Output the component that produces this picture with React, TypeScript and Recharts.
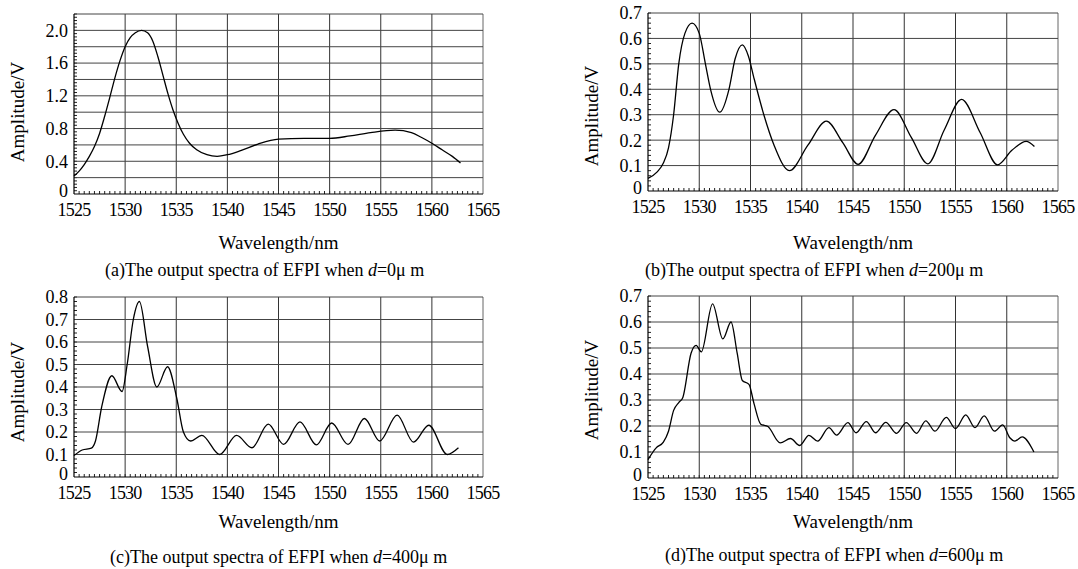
import React from "react";
import { LineChart, Line, XAxis, YAxis, ReferenceLine } from "recharts";

// wavelength axis (nm)
const wavelengthTicks = [1525, 1530, 1535, 1540, 1545, 1550, 1555, 1560, 1565];

// (a) d = 0 um
const wavelengthA = [1525, 1525.5, 1526, 1526.5, 1527, 1527.5, 1528, 1528.5, 1529, 1529.5, 1530, 1530.5, 1531, 1531.6, 1532.2, 1532.7, 1533.2, 1533.7, 1534.2, 1534.7, 1535.2, 1535.7, 1536.3, 1537, 1538, 1539, 1540, 1541.3, 1543, 1545, 1547.5, 1550, 1552, 1554, 1556.4, 1558, 1559, 1560, 1561, 1562, 1562.8];
const amplitudeA = [0.22, 0.28, 0.36, 0.46, 0.58, 0.74, 0.95, 1.18, 1.42, 1.63, 1.8, 1.91, 1.97, 2.0, 1.97, 1.87, 1.68, 1.45, 1.22, 1.02, 0.86, 0.73, 0.62, 0.54, 0.48, 0.46, 0.48, 0.53, 0.61, 0.67, 0.68, 0.68, 0.71, 0.75, 0.78, 0.75, 0.69, 0.62, 0.54, 0.46, 0.38];

// (b) d = 200 um
const wavelengthB = [1525, 1525.9, 1526.5, 1527, 1527.5, 1528, 1528.6, 1529.3, 1530, 1530.6, 1531.1, 1532, 1532.9, 1533.5, 1534.2, 1534.8, 1535.3, 1536.3, 1537.3, 1538.8, 1540.6, 1542.4, 1544, 1545.5, 1547.2, 1549, 1550.7, 1552.3, 1553.9, 1555.6, 1557.4, 1559.1, 1560.5, 1561.9, 1562.7];
const amplitudeB = [0.05, 0.075, 0.11, 0.17, 0.3, 0.5, 0.62, 0.66, 0.62, 0.5, 0.4, 0.31, 0.4, 0.52, 0.575, 0.53, 0.45, 0.3, 0.18, 0.08, 0.18, 0.275, 0.19, 0.105, 0.22, 0.32, 0.21, 0.107, 0.24, 0.36, 0.23, 0.103, 0.16, 0.195, 0.175];

// (c) d = 400 um
const wavelengthC = [1525, 1525.8, 1526.7, 1527.1, 1527.7, 1528.7, 1529.7, 1530.2, 1530.8, 1531.4, 1532.2, 1533.1, 1534.15, 1535.05, 1535.7, 1536.4, 1537.5, 1539.25, 1540.9, 1542.4, 1544, 1545.5, 1547.1, 1548.7, 1550.2, 1551.8, 1553.4, 1554.9, 1556.6, 1558.2, 1559.7, 1561.5, 1562.6];
const amplitudeC = [0.095, 0.12, 0.128, 0.16, 0.31, 0.45, 0.38, 0.5, 0.7, 0.78, 0.58, 0.4, 0.49, 0.35, 0.2, 0.16, 0.185, 0.1, 0.185, 0.13, 0.235, 0.145, 0.245, 0.143, 0.24, 0.145, 0.26, 0.16, 0.275, 0.155, 0.23, 0.1, 0.13];

// (d) d = 600 um
const wavelengthD = [1525, 1525.8, 1526.5, 1527, 1527.5, 1528, 1528.4, 1529.2, 1529.7, 1530.2, 1531.3, 1532.3, 1533.1, 1533.7, 1534.2, 1534.85, 1535.35, 1536, 1536.7, 1537.9, 1538.9, 1539.8, 1540.7, 1541.55, 1542.65, 1543.4, 1544.5, 1545.3, 1546.3, 1547.2, 1548.2, 1549.25, 1550.2, 1551.2, 1552.1, 1553, 1554.1, 1555, 1556, 1556.9, 1557.8, 1558.8, 1559.6, 1560.3, 1560.8, 1561.5, 1562.65];
const amplitudeD = [0.071, 0.116, 0.138, 0.18, 0.26, 0.29, 0.31, 0.48, 0.51, 0.485, 0.67, 0.535, 0.6, 0.48, 0.375, 0.36, 0.285, 0.207, 0.198, 0.135, 0.152, 0.125, 0.164, 0.142, 0.194, 0.165, 0.213, 0.174, 0.217, 0.174, 0.214, 0.172, 0.213, 0.172, 0.22, 0.18, 0.233, 0.19, 0.243, 0.194, 0.239, 0.18, 0.204, 0.155, 0.142, 0.158, 0.1];

// amplitude axis ticks (V)
const amplitudeTicksA = [0, 0.4, 0.8, 1.2, 1.6, 2.0];
const amplitudeGridA = [0.2, 0.4, 0.6, 0.8, 1.0, 1.2, 1.4, 1.6, 1.8, 2.0, 2.2];
const amplitudeTicks7 = [0, 0.1, 0.2, 0.3, 0.4, 0.5, 0.6, 0.7];
const amplitudeTicks8 = [0, 0.1, 0.2, 0.3, 0.4, 0.5, 0.6, 0.7, 0.8];

const captions = ["(a)", "(b)", "(c)", "(d)"];
const spacings = ["0", "200", "400", "600"];

const FONT = "'Liberation Serif', 'Times New Roman', serif";

const steps = (from: number, to: number, step: number) => {
  const out: number[] = [];
  for (let v = from; v <= to + 1e-9; v += step) out.push(Math.round(v * 1000) / 1000);
  return out;
};

interface PanelProps {
  wavelength: number[];
  amplitude: number[];
  yMax: number;
  yTicks: number[];
  yGrid: number[];
  yMinorStep: number;
  caption: string;
  spacing: string;
  plot: { left: number; right: number; top: number; bottom: number };
  yLabel: { x: number; y: number };
  xLabelY: number;
  captionPos: { x: number; y: number };
}

const Spectrum: React.FC<PanelProps> = ({
  wavelength,
  amplitude,
  yMax,
  yTicks,
  yGrid,
  yMinorStep,
  caption,
  spacing,
  plot,
  yLabel,
  xLabelY,
  captionPos,
}) => {
  const data = wavelength.map((w, i) => ({ w, v: amplitude[i] }));
  const plotW = plot.right - plot.left;
  const plotH = plot.bottom - plot.top;
  const tickStyle = { fontFamily: FONT, fontSize: 18, fill: "#000" };
  // minor tick length ~3px, in data units
  const minorY = (yMax * 3) / plotH;
  const minorX = (40 * 3) / plotW;

  const renderYTick = (p: any) => {
    const v = p.payload.value as number;
    return (
      <text x={p.x} y={p.y + (v === 0 ? -3 : 0)} dy="0.355em" textAnchor="end" {...tickStyle}>
        {v === 0 ? "0" : v.toFixed(1)}
      </text>
    );
  };

  return (
    <>
      <div style={{ position: "absolute", left: plot.left - 60, top: plot.top - 10 }}>
        <LineChart
          width={plotW + 80}
          height={plotH + 50}
          data={data}
          margin={{ top: 10, right: 20, left: 0, bottom: 10 }}
        >
          <XAxis
            dataKey="w"
            type="number"
            domain={[1525, 1565]}
            ticks={wavelengthTicks}
            interval={0}
            tickLine={false}
            tickSize={6}
            tickMargin={3}
            height={30}
            axisLine={{ stroke: "#000", strokeWidth: 1.2 }}
            tick={{ ...tickStyle, letterSpacing: -0.8 }}
          />
          <YAxis
            type="number"
            domain={[0, yMax]}
            ticks={yTicks}
            interval={0}
            width={60}
            tickLine={false}
            tickSize={4}
            tickMargin={2}
            axisLine={{ stroke: "#000", strokeWidth: 1.2 }}
            tick={renderYTick}
          />
          {steps(1525.5, 1564.5, 0.5).map((w) => (
            <ReferenceLine
              key={"mx" + w}
              segment={[
                { x: w, y: 0 },
                { x: w, y: minorY },
              ]}
              stroke="#222"
              strokeWidth={1}
            />
          ))}
          {steps(yMinorStep, yMax, yMinorStep).map((v) => (
            <ReferenceLine
              key={"my" + v}
              segment={[
                { x: 1525, y: v },
                { x: 1525 + minorX, y: v },
              ]}
              stroke="#222"
              strokeWidth={1}
            />
          ))}
          {wavelengthTicks.slice(1).map((w) => (
            <ReferenceLine key={"x" + w} x={w} stroke={w === 1565 ? "#666" : "#333"} strokeWidth={1} />
          ))}
          {yGrid.map((v) => (
            <ReferenceLine key={"y" + v} y={v} stroke="#444" strokeWidth={1} />
          ))}
          <Line
            dataKey="v"
            type="monotone"
            dot={false}
            stroke="#000"
            strokeWidth={1.3}
            isAnimationActive={false}
          />
        </LineChart>
      </div>
      <div
        style={{
          position: "absolute",
          left: yLabel.x - 70,
          top: yLabel.y - 12,
          width: 140,
          height: 24,
          lineHeight: "24px",
          textAlign: "center",
          transform: "rotate(-90deg)",
          fontFamily: FONT,
          fontSize: 19,
          whiteSpace: "nowrap",
        }}
      >
        Amplitude/V
      </div>
      <div
        style={{
          position: "absolute",
          left: plot.left,
          width: plotW,
          top: xLabelY - 12,
          height: 24,
          lineHeight: "24px",
          textAlign: "center",
          fontFamily: FONT,
          fontSize: 19,
        }}
      >
        Wavelength/nm
      </div>
      <div
        style={{
          position: "absolute",
          left: captionPos.x,
          top: captionPos.y - 12,
          height: 24,
          lineHeight: "24px",
          fontFamily: FONT,
          fontSize: 18,
          whiteSpace: "nowrap",
        }}
      >
        {caption}The output spectra of EFPI when <i>d</i>={spacing}μ m
      </div>
    </>
  );
};

const App: React.FC = () => {
  return (
    <div
      style={{
        position: "absolute",
        left: 0,
        top: 0,
        width: 1078,
        height: 569,
        background: "#fff",
        overflow: "hidden",
      }}
    >
      <Spectrum
        wavelength={wavelengthA}
        amplitude={amplitudeA}
        yMax={2.2}
        yTicks={amplitudeTicksA}
        yGrid={amplitudeGridA}
        yMinorStep={0.04}
        caption={captions[0]}
        spacing={spacings[0]}
        plot={{ left: 74, right: 483, top: 14, bottom: 194 }}
        yLabel={{ x: 18, y: 112 }}
        xLabelY={243}
        captionPos={{ x: 105, y: 270 }}
      />
      <Spectrum
        wavelength={wavelengthB}
        amplitude={amplitudeB}
        yMax={0.7}
        yTicks={amplitudeTicks7}
        yGrid={amplitudeTicks7.slice(1)}
        yMinorStep={0.02}
        caption={captions[1]}
        spacing={spacings[1]}
        plot={{ left: 648, right: 1058, top: 13, bottom: 191 }}
        yLabel={{ x: 592, y: 116 }}
        xLabelY={243}
        captionPos={{ x: 645, y: 270 }}
      />
      <Spectrum
        wavelength={wavelengthC}
        amplitude={amplitudeC}
        yMax={0.8}
        yTicks={amplitudeTicks8}
        yGrid={amplitudeTicks8.slice(1)}
        yMinorStep={0.02}
        caption={captions[2]}
        spacing={spacings[2]}
        plot={{ left: 74, right: 483, top: 297, bottom: 477 }}
        yLabel={{ x: 18, y: 392 }}
        xLabelY={522}
        captionPos={{ x: 110, y: 557 }}
      />
      <Spectrum
        wavelength={wavelengthD}
        amplitude={amplitudeD}
        yMax={0.7}
        yTicks={amplitudeTicks7}
        yGrid={amplitudeTicks7.slice(1)}
        yMinorStep={0.02}
        caption={captions[3]}
        spacing={spacings[3]}
        plot={{ left: 648, right: 1058, top: 296, bottom: 478 }}
        yLabel={{ x: 592, y: 390 }}
        xLabelY={522}
        captionPos={{ x: 665, y: 555 }}
      />
    </div>
  );
};

export default App;
